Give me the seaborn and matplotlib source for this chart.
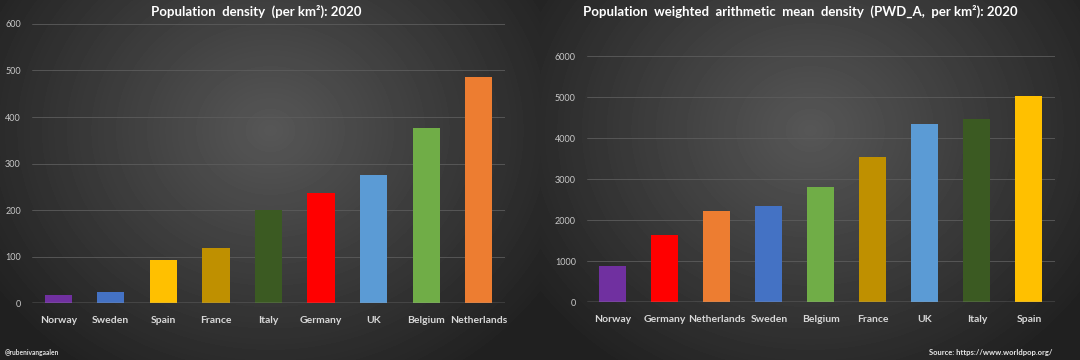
import numpy as np
import pandas as pd
import matplotlib
matplotlib.use("Agg")
import matplotlib.pyplot as plt
import seaborn as sns

# ---- data ----
left_countries = ["Norway", "Sweden", "Spain", "France", "Italy", "Germany", "UK", "Belgium", "Netherlands"]
left_values = [18, 24, 93, 119, 201, 236, 276, 377, 487]

right_countries = ["Norway", "Germany", "Netherlands", "Sweden", "Belgium", "France", "UK", "Italy", "Spain"]
right_values = [889, 1648, 2229, 2334, 2819, 3546, 4354, 4459, 5024]

left_ticks = [0, 100, 200, 300, 400, 500, 600]
right_ticks = [0, 1000, 2000, 3000, 4000, 5000, 6000]

country_colors = {
    "Norway": "#7030A0",
    "Sweden": "#4472C4",
    "Spain": "#FFC000",
    "France": "#BF9000",
    "Italy": "#3B5A22",
    "Germany": "#FF0000",
    "UK": "#5B9BD5",
    "Belgium": "#70AD47",
    "Netherlands": "#ED7D31",
}

left_title = "Population  density  (per km²): 2020"
right_title = "Population  weighted  arithmetic  mean  density  (PWD_A,  per km²): 2020"

sns.set_theme(style="dark")
plt.rcParams["font.family"] = ["Lato", "DejaVu Sans"]

fig = plt.figure(figsize=(10.8, 3.6), dpi=100)

# background: two radial gradients (one per panel)
W, H = 1080, 360
xx, yy = np.meshgrid(np.arange(W), np.arange(H))
bg = np.zeros((H, W))
for cx in (270, 810):
    half = (xx >= cx - 270) & (xx < cx + 270)
    d = np.sqrt(((xx - cx) / 300.0) ** 2 + ((yy - 130) / 260.0) ** 2)
    v = np.clip(0.34 - 0.19 * d, 0.13, 0.36)
    bg = np.where(half, v, bg)
bg_ax = fig.add_axes([0, 0, 1, 1], zorder=0)
bg_ax.imshow(bg, cmap="gray", vmin=0, vmax=1, aspect="auto", extent=[0, 1, 0, 1], interpolation="bilinear")
bg_ax.set_axis_off()


def draw(ax, cats, vals, ticks, ymax):
    df = pd.DataFrame({"country": cats, "value": vals})
    sns.barplot(data=df, x="country", y="value", hue="country", palette=country_colors,
                order=cats, hue_order=cats, legend=False, width=0.52, saturation=1,
                edgecolor="none", linewidth=0, ax=ax, zorder=3)
    ax.set_facecolor("none")
    ax.patch.set_alpha(0)
    ax.set_ylim(0, ymax)
    ax.set_xlim(-0.5, len(cats) - 0.5)
    ax.set_yticks(ticks)
    ax.set_yticklabels([str(t) for t in ticks], color="#c8c8c8", fontsize=6.5)
    ax.set_xticks(range(len(cats)))
    ax.set_xticklabels(cats, color="#d8d8d8", fontsize=7.5, fontweight="bold")
    ax.tick_params(axis="both", length=0)
    ax.tick_params(axis="x", pad=9)
    ax.tick_params(axis="y", pad=8)
    ax.set_xlabel("")
    ax.set_ylabel("")
    for t in ticks[1:]:
        ax.axhline(t, color="#5c5c5c", lw=0.6, zorder=1)
    ax.axhline(0, color="#a0a0a0", lw=1.0, zorder=4)
    for s in ax.spines.values():
        s.set_visible(False)
    ax.grid(False)


ax1 = fig.add_axes([0.0296, 0.1575, 0.438, 0.776], zorder=2)
draw(ax1, left_countries, left_values, left_ticks, 600)

ax2 = fig.add_axes([0.5435, 0.161, 0.4333, 0.683], zorder=2)
draw(ax2, right_countries, right_values, right_ticks, 6000)

fig.text(256 / W, 1 - 11 / H, left_title, color="white", fontsize=9.5, fontweight="bold",
         ha="center", va="center")
fig.text(800 / W, 1 - 11 / H, right_title, color="white", fontsize=9.5, fontweight="bold",
         ha="center", va="center")
fig.text(5 / W, 1 - 352 / H, "@rubenivangaalen", color="#e0e0e0", fontsize=4.8, fontweight="bold",
         ha="left", va="center")
fig.text(1052 / W, 1 - 352 / H, "Source: https://www.worldpop.org/", color="#e8e8e8", fontsize=5.5,
         fontweight="bold", ha="right", va="center")

fig.savefig("out.png", dpi=100, facecolor="#262626")
